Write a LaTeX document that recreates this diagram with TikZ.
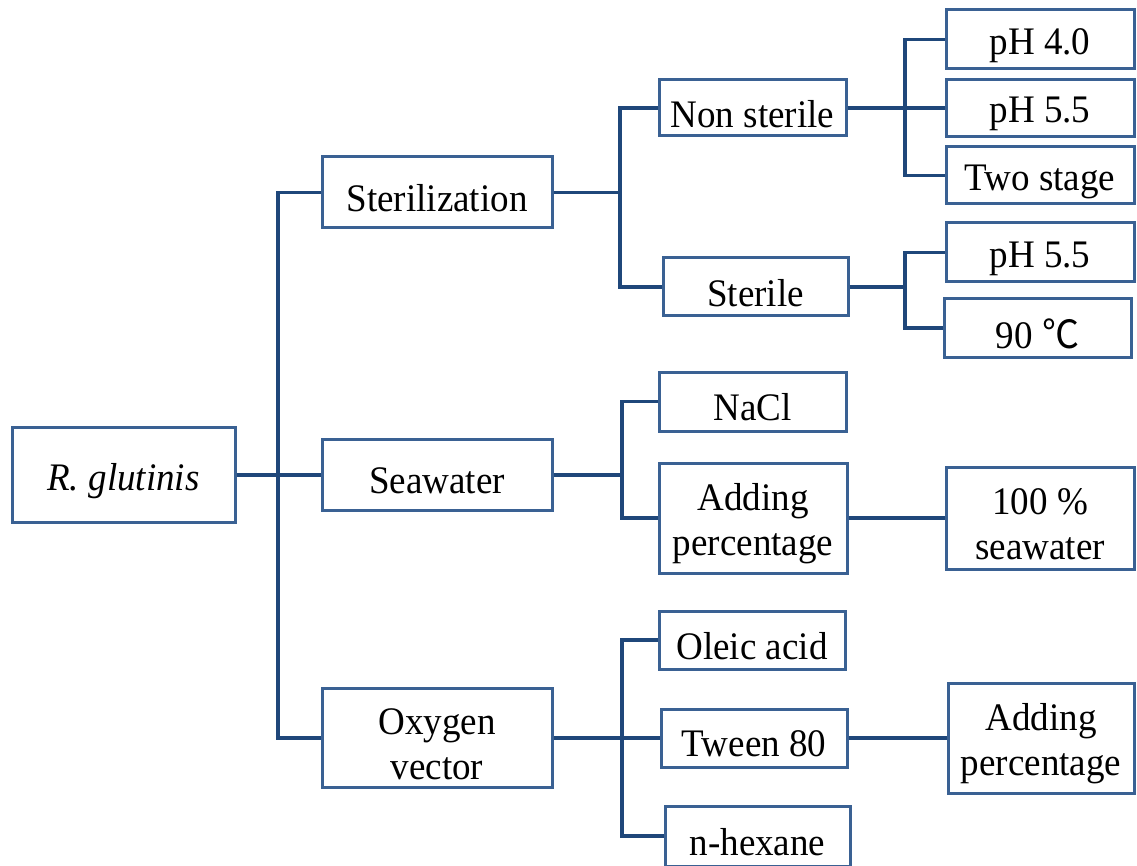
\documentclass[tikz,border=0pt]{standalone}
\usepackage{fontspec}
\setmainfont{Liberation Serif}[FakeStretch=0.95]
\newfontfamily\cjk{Noto Sans CJK SC}[FakeStretch=0.95]
\definecolor{boxblue}{HTML}{3A6193}
\definecolor{lineblue}{HTML}{1F477A}
\begin{document}
\begin{tikzpicture}[x=1pt,y=-1pt,
  lbl/.style={inner sep=0pt,align=center,yshift=-6pt,
    font=\fontsize{39}{45}\selectfont},
  bx/.style={draw=boxblue,line width=3pt,inner sep=0pt,
    label={[lbl]center:#1}},
  conn/.style={draw=lineblue,line width=3.5pt}]
\useasboundingbox (0,0) rectangle (1137,866);
% level 0
\node[bx={\itshape R. glutinis},minimum width=223,minimum height=95] (rg) at (123.5,475) {};
% level 1
\node[bx={Sterilization},minimum width=230,minimum height=71] (st) at (437,192.5) {};
\node[bx={Seawater},minimum width=230,minimum height=71] (sw) at (437,475) {};
\node[bx={Oxygen\\vector},minimum width=230,minimum height=99] (ov) at (437,738) {};
% level 2
\node[bx={Non sterile},minimum width=187,minimum height=56] (ns) at (752.5,108) {};
\node[bx={Sterile},minimum width=185,minimum height=58] (se) at (755.5,287) {};
\node[bx={NaCl},minimum width=187,minimum height=59] (nacl) at (752.5,401.5) {};
\node[bx={Adding\\percentage},minimum width=188,minimum height=110] (addp) at (753,518) {};
\node[bx={Oleic acid},minimum width=186,minimum height=58] (oleic) at (752,640) {};
\node[bx={Tween 80},minimum width=186,minimum height=58] (tween) at (754,738) {};
\node[bx={n-hexane},minimum width=185,minimum height=60] (hex) at (757.5,836) {};
% level 3
\node[bx={pH 4.0},minimum width=188,minimum height=59] (p40) at (1040,39.5) {};
\node[bx={pH 5.5},minimum width=188,minimum height=57] (p55a) at (1040,108) {};
\node[bx={Two stage},minimum width=188,minimum height=57] (two) at (1040,175.5) {};
\node[bx={pH 5.5},minimum width=188,minimum height=59] (p55b) at (1040,252.5) {};
\node[bx={90 {\cjk ℃}},minimum width=187,minimum height=58] (c90) at (1037.5,328) {};
\node[bx={100 \%\\seawater},minimum width=188,minimum height=102] (sw100) at (1040,518) {};
\node[bx={Adding\\percentage},minimum width=186,minimum height=110] (addp2) at (1041,738) {};
% junctions
\coordinate (j1) at (278,475);
\coordinate (j2) at (620,192.5);
\coordinate (j3) at (905,108);
\coordinate (j4) at (905,287);
\coordinate (j5) at (622,475);
\coordinate (j6) at (622,738);
% connectors
\draw[conn] (rg.east) -- (j1) -- (sw.west);
\draw[conn] (st.west) -| (j1) |- (ov.west);
\draw[conn] (st.east) -- (j2);
\draw[conn] (ns.west) -| (j2) |- (se.west);
\draw[conn] (ns.east) -- (p55a.west);
\draw[conn] (p40.west) -| (j3) |- (two.west);
\draw[conn] (se.east) -- (j4);
\draw[conn] (p55b.west) -| (j4) |- (c90.west);
\draw[conn] (sw.east) -- (j5);
\draw[conn] (nacl.west) -| (j5) |- (addp.west);
\draw[conn] (addp.east) -- (sw100.west);
\draw[conn] (ov.east) -- (j6) -- (tween.west);
\draw[conn] (oleic.west) -| (j6) |- (hex.west);
\draw[conn] (tween.east) -- (addp2.west);
\end{tikzpicture}
\end{document}
